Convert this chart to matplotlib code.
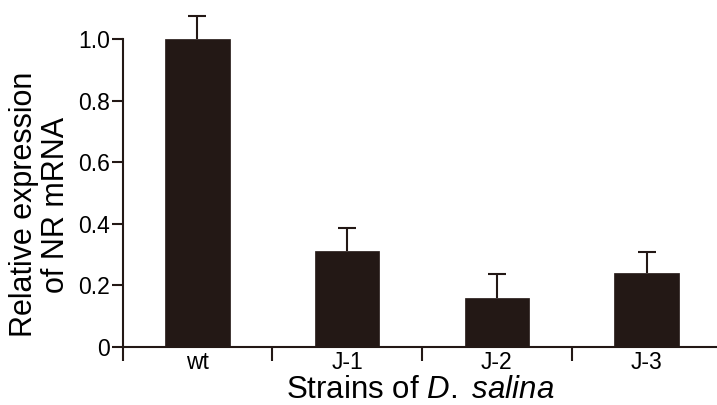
import matplotlib.pyplot as plt

# ======================================================
# DATA
# ======================================================

strains = ["wt", "J-1", "J-2", "J-3"]
expression = [1.0, 0.312, 0.157, 0.239]
error_up = [0.076, 0.075, 0.079, 0.070]

y_ticks = [0, 0.2, 0.4, 0.6, 0.8, 1.0]
y_tick_labels = ["0", "0.2", "0.4", "0.6", "0.8", "1.0"]

# ======================================================
# STYLE
# ======================================================

DARK = "#231815"
plt.rcParams["font.family"] = ["Liberation Sans", "DejaVu Sans"]
plt.rcParams["mathtext.fontset"] = "custom"
plt.rcParams["mathtext.it"] = "Liberation Sans:italic"
plt.rcParams["mathtext.rm"] = "Liberation Sans"

fig = plt.figure(figsize=(7.17, 4.05), dpi=100)
ax = fig.add_axes([0.1709, 0.144, 0.8291, 0.835])

x = list(range(len(strains)))

ax.bar(x, expression, width=0.43, color=DARK, edgecolor=DARK, linewidth=0.5, zorder=2)
eb = ax.errorbar(
    x, expression,
    yerr=[[0] * len(strains), error_up],
    fmt="none",
    ecolor=DARK,
    elinewidth=1.5,
    capsize=6.5,
    capthick=1.5,
    zorder=1,
)
# only the upper cap is wanted
eb[1][0].remove()

ax.set_xlim(-0.5, 3.47)
ax.set_ylim(0, 1.1)

ax.set_yticks(y_ticks)
ax.set_yticklabels(y_tick_labels)

# ticks between categories, labels at category centres
ax.set_xticks([-0.5, 0.5, 1.5, 2.5])
ax.set_xticklabels([])
ax.set_xticks(x, minor=True)
ax.set_xticklabels(strains, minor=True)
ax.tick_params(axis="x", which="minor", length=0, pad=3, labelsize=16.5)
ax.tick_params(axis="x", which="major", length=10, width=1.5, color=DARK)
ax.tick_params(axis="y", length=8, width=1.5, color=DARK, labelsize=16.5, pad=1)

for side in ["top", "right"]:
    ax.spines[side].set_visible(False)
for side in ["left", "bottom"]:
    ax.spines[side].set_color(DARK)
    ax.spines[side].set_linewidth(1.5)
ax.spines["left"].set_bounds(0, 1.0)

ax.set_ylabel("Relative expression\nof NR mRNA", fontsize=22, linespacing=1.1)
ax.yaxis.set_label_coords(-0.087, 0.42)
ax.set_xlabel("Strains of $\\it{D.}$ $\\it{salina}$", fontsize=22.5, labelpad=1)

plt.savefig("out.png", dpi=100)
